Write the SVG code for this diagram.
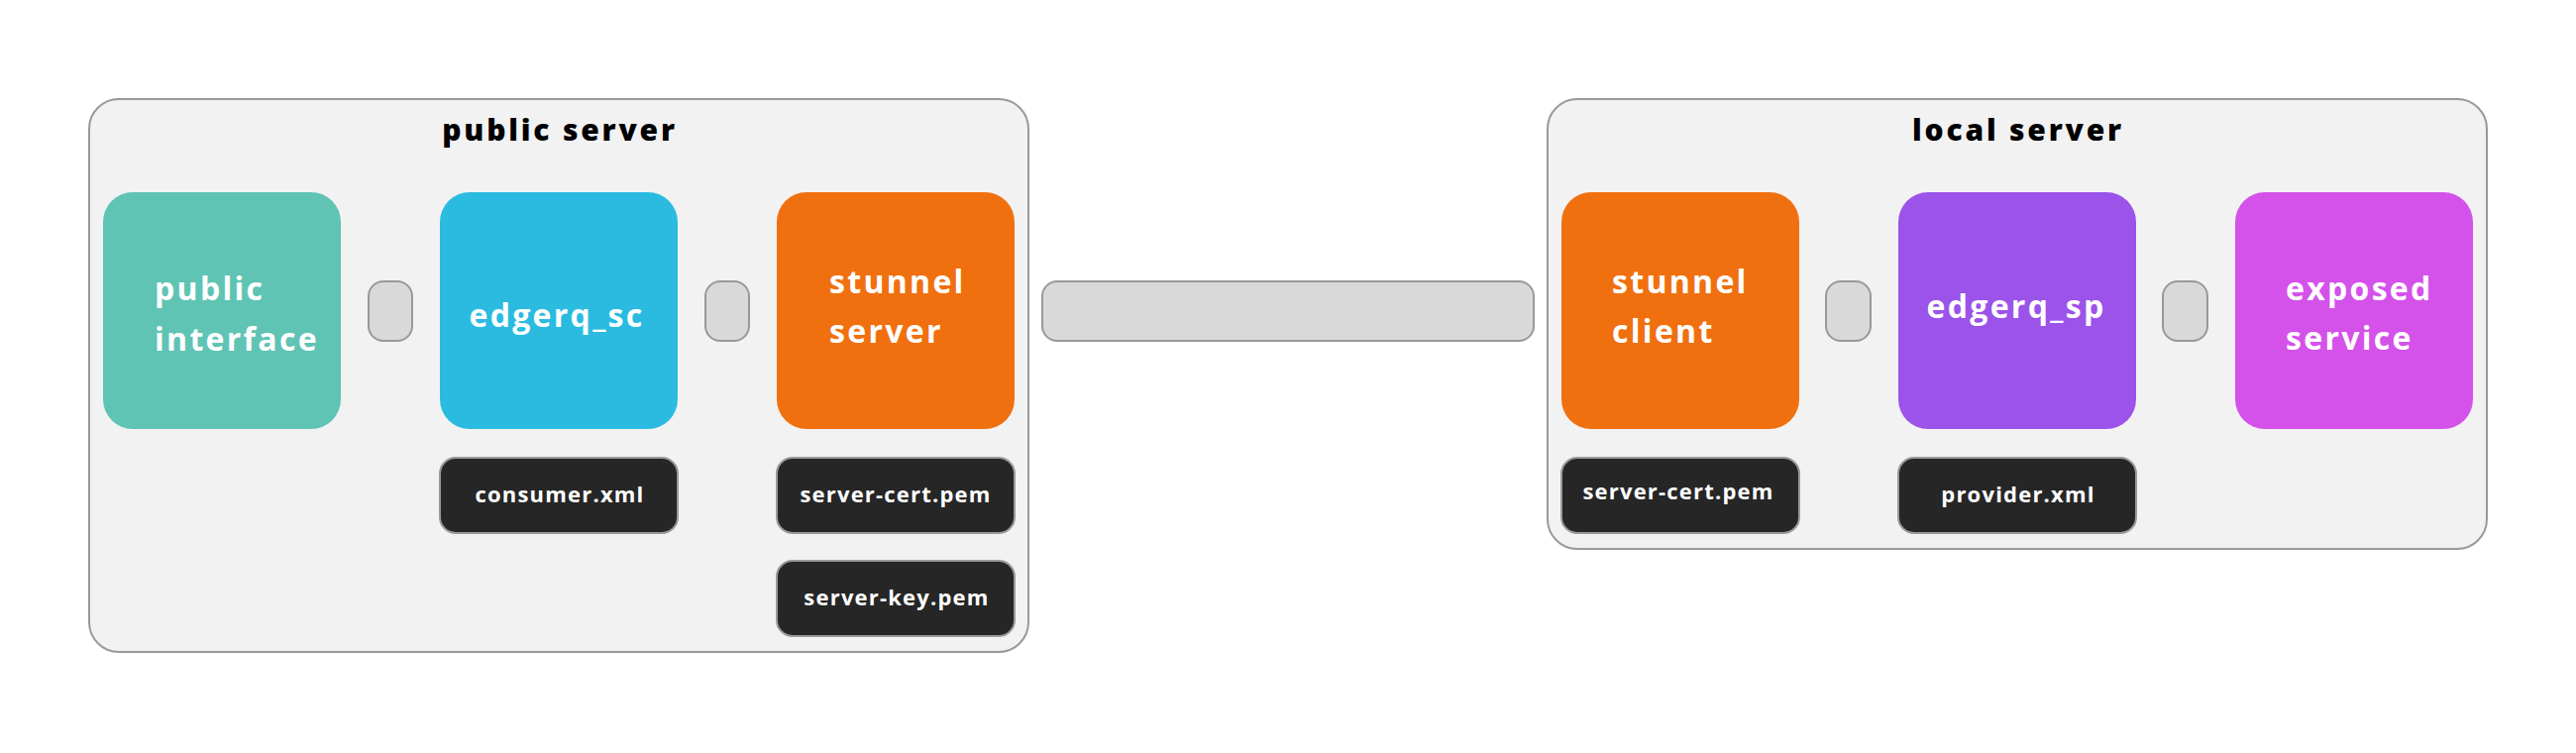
<svg xmlns="http://www.w3.org/2000/svg" width="2600" height="760" viewBox="0 0 2600 760">
  <style>
    .server { fill: #f2f2f2; stroke: #999999; stroke-width: 2; }
    .title { font-family: "Open Sans", "Liberation Sans", sans-serif; font-weight: 800; font-size: 30px; letter-spacing: 2.8px; fill: #000000; text-anchor: middle; }
    .node { stroke: none; }
    .label { font-family: "Open Sans", "Liberation Sans", sans-serif; font-weight: 700; font-size: 32px; letter-spacing: 2.3px; fill: #ffffff; }
    .file { fill: #262626; stroke: #999999; stroke-width: 2; }
    .flabel { font-family: "Open Sans", "Liberation Sans", sans-serif; font-weight: 700; font-size: 22px; letter-spacing: 1.2px; fill: #ffffff; text-anchor: middle; }
    .conn { fill: #d9d9d9; stroke: #999999; stroke-width: 2; }
  </style>
  <rect width="2600" height="760" fill="#ffffff"/>

  <g id="public-server">
    <rect class="server" x="90" y="100" width="948" height="558" rx="30"/>
    <text class="title" x="565" y="142">public server</text>
  </g>
  <g id="local-server">
    <rect class="server" x="1562" y="100" width="948" height="454" rx="30"/>
    <text class="title" x="2037" y="142">local server</text>
  </g>

  <g id="connectors">
    <rect class="conn" x="372" y="284" width="44" height="60" rx="15"/>
    <rect class="conn" x="712" y="284" width="44" height="60" rx="15"/>
    <rect class="conn" x="1052" y="284" width="496" height="60" rx="15"/>
    <rect class="conn" x="1843" y="284" width="45" height="60" rx="15"/>
    <rect class="conn" x="2183" y="284" width="45" height="60" rx="15"/>
  </g>

  <g id="public-interface">
    <rect class="node" x="104" y="194" width="240" height="239" rx="30" fill="#5fc4b4"/>
    <text class="label" x="156" y="303">public</text>
    <text class="label" x="156" y="354">interface</text>
  </g>
  <g id="edgerq_sc">
    <rect class="node" x="444" y="194" width="240" height="239" rx="30" fill="#2bbbe0"/>
    <text class="label" x="562" y="330" text-anchor="middle">edgerq_sc</text>
  </g>
  <g id="stunnel-server">
    <rect class="node" x="784" y="194" width="240" height="239" rx="30" fill="#f07010"/>
    <text class="label" x="837" y="296">stunnel</text>
    <text class="label" x="837" y="346">server</text>
  </g>
  <g id="consumer-xml">
    <rect class="file" x="444" y="462" width="240" height="76" rx="16"/>
    <text class="flabel" x="565" y="507">consumer.xml</text>
  </g>
  <g id="server-cert-pem-public">
    <rect class="file" x="784" y="462" width="240" height="76" rx="16"/>
    <text class="flabel" x="904" y="507">server-cert.pem</text>
  </g>
  <g id="server-key-pem">
    <rect class="file" x="784" y="566" width="240" height="76" rx="16"/>
    <text class="flabel" x="905" y="611">server-key.pem</text>
  </g>

  <g id="stunnel-client">
    <rect class="node" x="1576" y="194" width="240" height="239" rx="30" fill="#f07010"/>
    <text class="label" x="1627" y="296">stunnel</text>
    <text class="label" x="1627" y="346">client</text>
  </g>
  <g id="edgerq_sp">
    <rect class="node" x="1916" y="194" width="240" height="239" rx="30" fill="#9b53e9"/>
    <text class="label" x="2035" y="321" text-anchor="middle">edgerq_sp</text>
  </g>
  <g id="exposed-service">
    <rect class="node" x="2256" y="194" width="240" height="239" rx="30" fill="#d452ea"/>
    <text class="label" x="2307" y="303">exposed</text>
    <text class="label" x="2307" y="353">service</text>
  </g>
  <g id="server-cert-pem-local">
    <rect class="file" x="1576" y="462" width="240" height="76" rx="16"/>
    <text class="flabel" x="1694" y="504">server-cert.pem</text>
  </g>
  <g id="provider-xml">
    <rect class="file" x="1916" y="462" width="240" height="76" rx="16"/>
    <text class="flabel" x="2037" y="507">provider.xml</text>
  </g>
</svg>
